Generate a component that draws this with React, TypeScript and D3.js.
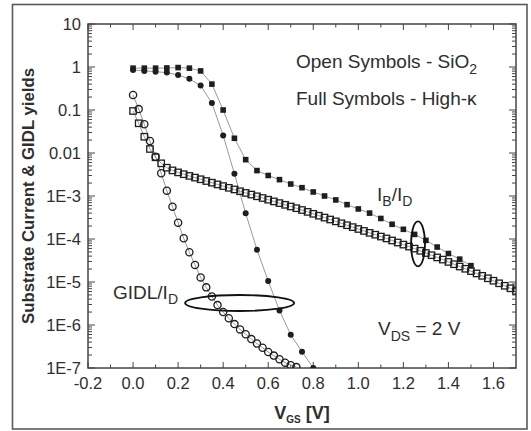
import React from "react";
import * as d3 from "d3";

const W = 531;
const H = 431;

// Axis ticks
const xMajorTicks = [-0.2, 0.0, 0.2, 0.4, 0.6, 0.8, 1.0, 1.2, 1.4, 1.6];
const xTickLabels = ["-0.2", "0.0", "0.2", "0.4", "0.6", "0.8", "1.0", "1.2", "1.4", "1.6"];
const xMinorTicks = [-0.1, 0.1, 0.3, 0.5, 0.7, 0.9, 1.1, 1.3, 1.5];
const yMajorTicks = [10, 1, 0.1, 0.01, 1e-3, 1e-4, 1e-5, 1e-6, 1e-7];
const yTickLabels = ["10", "1", "0.1", "0.01", "1E-3", "1E-4", "1E-5", "1E-6", "1E-7"];

// High-k, I_B/I_D (full squares)
const vgsFullSq = [0, 0.05, 0.1, 0.15, 0.2, 0.25, 0.3, 0.35, 0.4, 0.45, 0.5, 0.55, 0.6, 0.65, 0.7, 0.75, 0.8, 0.85, 0.9, 0.95, 1.0, 1.05, 1.1, 1.15, 1.2, 1.25, 1.3, 1.35, 1.4, 1.45, 1.5];
const fullSq = [0.94, 0.94, 0.94, 0.95, 0.97, 0.94, 0.81, 0.40, 0.10, 0.022, 0.0070, 0.0039, 0.0030, 0.0024, 0.0019, 0.00156, 0.00124, 0.00100, 0.00081, 0.00063, 0.00050, 0.00040, 0.00030, 0.00022, 0.000168, 0.000128, 0.000093, 0.000065, 0.000046, 0.000034, 0.000024];

// High-k, GIDL/I_D (full circles)
const vgsFullCi = [0, 0.05, 0.1, 0.15, 0.2, 0.25, 0.3, 0.35, 0.4, 0.45, 0.5, 0.55, 0.6, 0.65, 0.7, 0.75, 0.8];
const fullCi = [0.85, 0.81, 0.78, 0.74, 0.65, 0.53, 0.37, 0.145, 0.0255, 0.0033, 0.000395, 0.0000565, 0.0000105, 0.00000218, 0.00000059, 0.00000024, 0.0000001];

// SiO2, GIDL/I_D (open circles)
const vgsOpenCi = [0, 0.025, 0.05, 0.075, 0.1, 0.125, 0.15, 0.175, 0.2, 0.225, 0.25, 0.275, 0.3, 0.325, 0.35, 0.375, 0.4, 0.425, 0.45, 0.475, 0.5, 0.525, 0.55, 0.575, 0.6, 0.625, 0.65, 0.675, 0.7, 0.725];
const openCi = [0.223, 0.105, 0.0465, 0.019, 0.0082, 0.00337, 0.00133, 0.000565, 0.00024, 0.000104, 0.000049, 0.000025, 0.0000128, 0.0000075, 0.0000046, 0.0000029, 0.0000020, 0.00000143, 0.00000105, 0.00000079, 0.00000061, 0.00000047, 0.00000037, 0.000000296, 0.000000236, 0.000000194, 0.00000016, 0.000000133, 0.000000116, 0.000000105];

// SiO2, I_B/I_D (open squares)
const vgsOpenSq = [0, 0.025, 0.05, 0.075, 0.1, 0.125, 0.15, 0.175, 0.2, 0.225, 0.25, 0.275, 0.3, 0.325, 0.35, 0.375, 0.4, 0.425, 0.45, 0.475, 0.5, 0.525, 0.55, 0.575, 0.6, 0.625, 0.65, 0.675, 0.7, 0.725, 0.75, 0.775, 0.8, 0.825, 0.85, 0.875, 0.9, 0.925, 0.95, 0.975, 1.0, 1.025, 1.05, 1.075, 1.1, 1.125, 1.15, 1.175, 1.2, 1.225, 1.25, 1.275, 1.3, 1.325, 1.35, 1.375, 1.4, 1.425, 1.45, 1.475, 1.5, 1.525, 1.55, 1.575, 1.6, 1.625, 1.65, 1.675, 1.7];
const openSq = [0.0948, 0.0491, 0.0239, 0.0124, 0.00794, 0.00575, 0.00455, 0.00394, 0.00354, 0.00321, 0.00293, 0.00268, 0.00245, 0.00223, 0.00204, 0.00186, 0.00170, 0.00155, 0.00142, 0.00129, 0.00118, 0.00108, 0.000984, 0.000898, 0.000820, 0.000749, 0.000684, 0.000624, 0.000570, 0.000520, 0.000472, 0.000427, 0.000385, 0.000348, 0.000315, 0.000284, 0.000257, 0.000232, 0.000209, 0.000189, 0.000171, 0.000154, 0.000139, 0.000126, 0.000114, 0.000103, 0.0000923, 0.0000829, 0.0000741, 0.0000666, 0.0000598, 0.0000532, 0.0000472, 0.0000420, 0.0000373, 0.0000332, 0.0000293, 0.0000259, 0.0000229, 0.0000203, 0.0000179, 0.0000158, 0.0000139, 0.0000122, 0.0000107, 0.00000933, 0.00000817, 0.00000714, 0.00000621];

const FONT = "'Liberation Sans', Arial, Helvetica, sans-serif";
const INK = "#1e1e1e";
const TXT = "#2e2e2e";

export default function App() {
  const x0 = 88, x1 = 516, y0 = 24, y1 = 368;
  const x = d3.scaleLinear().domain([-0.2, 1.7]).range([x0, x1]);
  const y = d3.scaleLog().domain([1e-7, 10]).range([y1, y0]);

  const yMinor: number[] = [];
  for (let e = -7; e < 1; e++) {
    for (let k = 2; k <= 9; k++) yMinor.push(k * Math.pow(10, e));
  }

  const line = d3
    .line<[number, number]>()
    .x((d) => x(d[0]))
    .y((d) => y(d[1]));

  const zip = (a: number[], b: number[]) => a.map((v, i) => [v, b[i]] as [number, number]);
  const dFullSq = zip(vgsFullSq, fullSq);
  const dFullCi = zip(vgsFullCi, fullCi);
  const dOpenCi = zip(vgsOpenCi, openCi);
  const dOpenSq = zip(vgsOpenSq, openSq);

  const sqFull = 5.6;
  const sqOpen = 6.4;

  return (
    <svg
      width={W}
      height={H}
      viewBox={`0 0 ${W} ${H}`}
      style={{ position: "absolute", left: 0, top: 0, background: "#fff" }}
      fontFamily={FONT}
    >
      <rect x={0} y={0} width={W} height={H} fill="#fff" />
      {/* outer frame */}
      <rect x={12.5} y={4.5} width={514.5} height={424.5} fill="none" stroke="#5a5a5a" strokeWidth={1.6} />

      <defs>
        <clipPath id="plotclip">
          <rect x={x0} y={y0} width={x1 - x0} height={y1 - y0} />
        </clipPath>
      </defs>

      {/* ticks */}
      <g stroke="#444" strokeWidth={1}>
        {xMajorTicks.map((t) => (
          <g key={"xm" + t}>
            <line x1={x(t)} x2={x(t)} y1={y1} y2={y1 - 6} />
            <line x1={x(t)} x2={x(t)} y1={y0} y2={y0 + 6} />
          </g>
        ))}
        {xMinorTicks.map((t) => (
          <g key={"xn" + t}>
            <line x1={x(t)} x2={x(t)} y1={y1} y2={y1 - 3.5} />
            <line x1={x(t)} x2={x(t)} y1={y0} y2={y0 + 3.5} />
          </g>
        ))}
        {yMajorTicks.map((t) => (
          <g key={"ym" + t}>
            <line x1={x0} x2={x0 + 7} y1={y(t)} y2={y(t)} />
            <line x1={x1} x2={x1 - 7} y1={y(t)} y2={y(t)} />
          </g>
        ))}
        {yMinor.map((t, i) => (
          <g key={"yn" + i}>
            <line x1={x0} x2={x0 + 4} y1={y(t)} y2={y(t)} />
            <line x1={x1} x2={x1 - 4} y1={y(t)} y2={y(t)} />
          </g>
        ))}
      </g>
      <rect x={x0} y={y0} width={x1 - x0} height={y1 - y0} fill="none" stroke="#444" strokeWidth={1.5} />

      {/* tick labels */}
      <g fill={TXT} fontSize={16.5}>
        {yMajorTicks.map((t, i) => (
          <text key={"yl" + i} x={81} y={y(t)} dy="0.36em" textAnchor="end">
            {yTickLabels[i]}
          </text>
        ))}
        {xMajorTicks.map((t, i) => (
          <text key={"xl" + i} x={x(t)} y={389} textAnchor="middle">
            {xTickLabels[i]}
          </text>
        ))}
      </g>

      {/* axis titles */}
      <text x={302} y={419} textAnchor="middle" fontWeight="bold" fontSize={18} fill={TXT}>
        V<tspan fontSize={10} dy={4}>GS</tspan>
        <tspan dy={-4}> [V]</tspan>
      </text>
      <text
        transform="rotate(-90)"
        x={-196}
        y={34}
        textAnchor="middle"
        fontWeight="bold"
        fontSize={16.8}
        fill={TXT}
      >
        Substrate Current &amp; GIDL yields
      </text>

      {/* data */}
      <g clipPath="url(#plotclip)">
        <g fill="none" stroke="#999" strokeWidth={1}>
          <path d={line(dFullSq) || ""} />
          <path d={line(dFullCi) || ""} />
          <path d={line(dOpenCi) || ""} />
          <path d={line(dOpenSq) || ""} />
        </g>
        {dOpenSq.map((d, i) => (
          <rect
            key={"os" + i}
            x={x(d[0]) - sqOpen / 2}
            y={y(d[1]) - sqOpen / 2}
            width={sqOpen}
            height={sqOpen}
            fill="none"
            stroke={INK}
            strokeWidth={1.3}
          />
        ))}
        {dOpenCi.map((d, i) => (
          <circle key={"oc" + i} cx={x(d[0])} cy={y(d[1])} r={3.6} fill="none" stroke={INK} strokeWidth={1.3} />
        ))}
        {dFullSq.map((d, i) => (
          <rect
            key={"fs" + i}
            x={x(d[0]) - sqFull / 2}
            y={y(d[1]) - sqFull / 2}
            width={sqFull}
            height={sqFull}
            fill={INK}
          />
        ))}
        {dFullCi.map((d, i) => (
          <circle key={"fc" + i} cx={x(d[0])} cy={y(d[1])} r={3.0} fill={INK} />
        ))}
      </g>

      {/* annotation ellipses */}
      <ellipse cx={x(0.473)} cy={y(3.25e-6)} rx={54.5} ry={8} fill="none" stroke="#111" strokeWidth={1.8} />
      <ellipse cx={x(1.265)} cy={y(7.7e-5)} rx={7} ry={22.5} fill="none" stroke="#111" strokeWidth={1.8} />

      {/* annotation text */}
      <g fill={TXT} fontSize={19}>
        <text x={296} y={68}>
          Open Symbols - SiO<tspan fontSize={14} dy={6}>2</tspan>
        </text>
        <text x={296} y={105}>Full Symbols - High-κ</text>
        <text x={377} y={201}>
          I<tspan fontSize={14} dy={5}>B</tspan>
          <tspan dy={-5}>/I</tspan>
          <tspan fontSize={14} dy={5}>D</tspan>
        </text>
        <text x={113} y={299}>
          GIDL/I<tspan fontSize={14} dy={5}>D</tspan>
        </text>
        <text x={378} y={335}>
          V<tspan fontSize={14} dy={6}>DS</tspan>
          <tspan dy={-6}> = 2 V</tspan>
        </text>
      </g>
    </svg>
  );
}
